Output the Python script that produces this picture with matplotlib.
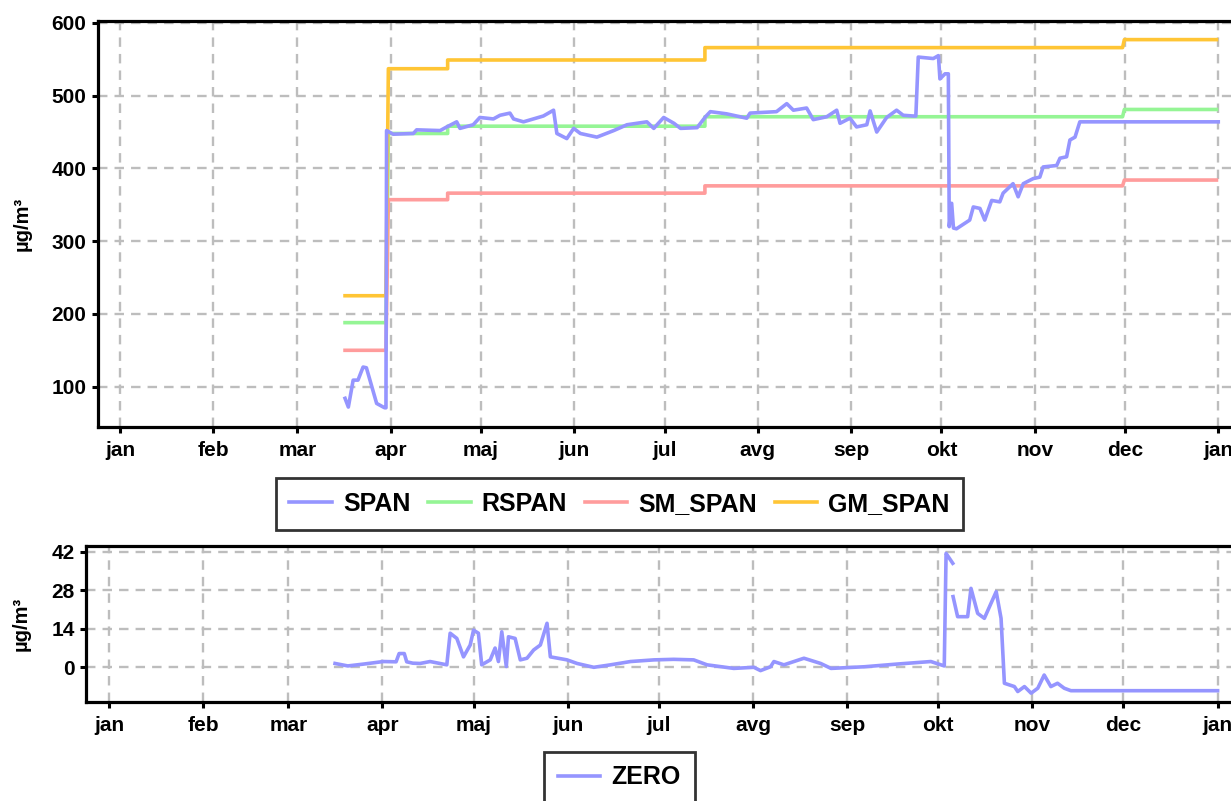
import numpy as np
import matplotlib
matplotlib.use("Agg")
import matplotlib.pyplot as plt
from matplotlib.lines import Line2D

plt.rcParams['font.family'] = ['Liberation Sans', 'DejaVu Sans']

# ---------------- data ----------------
month_days = [0, 31, 59, 90, 120, 151, 181, 212, 243, 273, 304, 334, 365]
month_labels = ['jan', 'feb', 'mar', 'apr', 'maj', 'jun', 'jul', 'avg', 'sep', 'okt', 'nov', 'dec', 'jan']

span_days = [74.8, 75.9, 77.5, 79.1, 80.8, 81.9, 85.3, 87.5, 88.0, 88.4, 88.6, 90.8, 97.5, 98.6, 106.4,
             108.6, 111.9, 113, 117.4, 119.6, 124.1, 126.3, 129.6, 130.8, 134.1, 137.4, 140.7, 144.1,
             145.2, 148.5, 150.8, 153, 158.5, 164.1, 168.5, 175.1, 177.4, 180.7, 184.1, 186.3, 191.8,
             194.6, 196.2, 201.6, 208.3, 209.4, 218.2, 221.6, 223.8, 228.2, 230.4, 234.9, 238.2, 239.3,
             242.6, 244.8, 248.2, 249.3, 251.5, 254.8, 258.1, 260.3, 263.7, 264.5, 265.3, 270.3, 272,
             272.5, 274.2, 275.3, 275.6, 276.4, 277, 278, 282.4, 283.6, 285.8, 287.4, 289.7, 292.4,
             293.5, 296.8, 298.5, 300.2, 303.5, 305.7, 306.8, 311.3, 312.4, 314.6, 315.7, 317.4, 319, 365]
span_vals = [84, 72, 109, 109, 127, 126, 77, 72, 71, 71, 452, 447, 448, 453, 452,
             457, 464, 455, 460, 470, 468, 473, 476, 468, 464, 468, 472, 480,
             448, 441, 455, 448, 443, 452, 460, 464, 455, 470, 462, 455, 456,
             471, 478, 475, 469, 476, 478, 489, 480, 483, 467, 471, 480, 462,
             469, 457, 460, 479, 450, 470, 480, 473, 472, 472, 553, 551, 555,
             523, 530, 530, 320, 352, 318, 317, 329, 347, 345, 329, 356, 354,
             366, 379, 361, 379, 386, 388, 402, 404, 414, 416, 439, 443, 464, 464]

rspan_days = [74.2, 88.4, 89.2, 108.9, 108.9, 194.4, 194.4, 333.2, 333.8, 365]
rspan_vals = [188, 188, 448, 448, 458, 458, 471, 471, 481, 481]

smspan_days = [74.2, 88.4, 89.2, 108.9, 108.9, 194.4, 194.4, 333.2, 333.8, 365]
smspan_vals = [150, 150, 357, 357, 366, 366, 376, 376, 384, 384]

gmspan_days = [74.2, 88.4, 89.2, 108.9, 108.9, 194.4, 194.4, 333.2, 333.8, 365]
gmspan_vals = [225, 225, 537, 537, 549, 549, 566, 566, 577, 577]

zero_days = [74.4, 78.6, 84, 90.3, 94.5, 95.5, 97.2, 98, 100, 102.4, 105.7, 111.2, 112.3, 114.5,
             116.7, 118.9, 120, 121.6, 122.7, 125.5, 127.1, 128.2, 129.3, 130.8, 131.5, 133.7,
             135.4, 137.6, 139.8, 142, 144.2, 145.3, 150.8, 154.1, 159.6, 165.1, 171.7, 179.4,
             185.9, 192.5, 196.9, 205.7, 212.3, 214.5, 217.8, 218.9, 222.2, 228.8, 234.3, 237.7,
             248.7, 259.7, 270.6, 275, 275.6, 276.7, 277.8, 277.8, 277.9, 279.4, 282.7, 283.8,
             286, 288.2, 292.1, 293.7, 294.8, 298.1, 299.2, 301.4, 303.6, 305.8, 307.9, 310.1,
             312.3, 314.5, 316.7, 365]
zero_vals = [1.4, 0.5, 1.2, 2.1, 2.0, 5, 5, 2, 1.5, 1.4, 2.1, 0.9, 12.4, 10.5,
             3.8, 8.1, 13.5, 12.4, 0.9, 2.7, 7, 2.1, 12.9, 0.3, 11.1, 10.5,
             2.7, 3.3, 6.3, 8.1, 16, 3.8, 2.7, 1.4, 0, 0.9, 2.1, 2.7,
             2.9, 2.7, 0.9, -0.4, 0, -1.2, 0.2, 2.1, 0.9, 3.3, 1.4, -0.4,
             0.2, 1.2, 2.1, 0.5, 41.4, 39.6, 37.8, np.nan, 25.7, 18.4, 18.4, 28.7,
             19.6, 17.8, 27.5, 17.8, -5.8, -7, -8.8, -7, -9.4, -7.6, -2.8, -7,
             -5.8, -7.6, -8.5, -8.5]

top_yticks = [100, 200, 300, 400, 500, 600]
bottom_yticks = [0, 14, 28, 42]

# ---------------- styling ----------------
C_SPAN = '#9595ff'
C_RSPAN = '#95f595'
C_SM = '#ff9c9c'
C_GM = '#ffc535'
GRID_C = '#bdbdbd'

W, H = 1231, 801
fig = plt.figure(figsize=(W / 100, H / 100), dpi=100)


def px_axes(left, top, width, height):
    return fig.add_axes([left / W, 1 - (top + height) / H, width / W, height / H])


def style_axes(ax, yticks):
    ax.set_xticks(month_days)
    ax.set_xticklabels(month_labels)
    ax.set_yticks(yticks)
    ax.tick_params(axis='both', direction='out', length=4.5, width=2.2, labelsize=15,
                   color='black')
    ax.tick_params(axis='x', pad=6)
    ax.tick_params(axis='y', pad=3.5)
    for lab in ax.get_xticklabels() + ax.get_yticklabels():
        lab.set_fontweight('bold')
    for side in ['left', 'bottom', 'top']:
        ax.spines[side].set_linewidth(2.3)
        ax.spines[side].set_color('black')
    ax.spines['right'].set_visible(False)
    ax.grid(True, color=GRID_C, linestyle=(0, (4, 3)), linewidth=1.7)
    ax.set_axisbelow(True)


# top axes
ax1 = px_axes(97.7, 20.7, 379.4 * 3.009, 406.0)
ax1.set_xlim(-7.4, 372)
ax1.set_ylim(45, 603)
ax1.plot(rspan_days, rspan_vals, color=C_RSPAN, lw=2.6, solid_capstyle='butt', zorder=3)
ax1.plot(smspan_days, smspan_vals, color=C_SM, lw=2.6, solid_capstyle='butt', zorder=3)
ax1.plot(gmspan_days, gmspan_vals, color=C_GM, lw=2.6, solid_capstyle='butt', zorder=3)
ax1.plot(span_days, span_vals, color=C_SPAN, lw=2.6, zorder=4)
style_axes(ax1, top_yticks)

# bottom axes
ax2 = px_axes(85.7, 545.7, 379.7 * 3.037, 156.0)
ax2.set_xlim(-7.7, 372)
ax2.set_ylim(-12.5, 44.2)
ax2.plot(zero_days, zero_vals, color=C_SPAN, lw=2.6, zorder=4)
style_axes(ax2, bottom_yticks)

# y labels
fig.text(22 / W, 1 - 223.7 / H, 'µg/m³', rotation=90, ha='center', va='center',
         fontsize=14.5, fontweight='bold')
fig.text(21 / W, 1 - 623.7 / H, 'µg/m³', rotation=90, ha='center', va='center',
         fontsize=14.5, fontweight='bold')

# legends
handles_top = [Line2D([], [], color=c, lw=2.6) for c in (C_SPAN, C_RSPAN, C_SM, C_GM)]
leg1 = fig.legend(handles_top, ['SPAN', 'RSPAN', 'SM_SPAN', 'GM_SPAN'],
                  loc='upper center', bbox_to_anchor=(619.5 / W, 1 - 478 / H), ncol=4,
                  prop={'size': 18, 'weight': 'bold'}, frameon=True, fancybox=False,
                  edgecolor='black', handlelength=1.7, handletextpad=0.45, columnspacing=0.7,
                  borderpad=0.55, borderaxespad=0)
leg1.get_frame().set_linewidth(2.0)

leg2 = fig.legend([Line2D([], [], color=C_SPAN, lw=2.6)], ['ZERO'],
                  loc='upper center', bbox_to_anchor=(619.3 / W, 1 - 751.7 / H), ncol=1,
                  prop={'size': 18, 'weight': 'bold'}, frameon=True, fancybox=False,
                  edgecolor='black', handlelength=1.7, handletextpad=0.45,
                  borderpad=0.55, borderaxespad=0)
leg2.get_frame().set_linewidth(2.0)

fig.savefig('out.png', dpi=100)
